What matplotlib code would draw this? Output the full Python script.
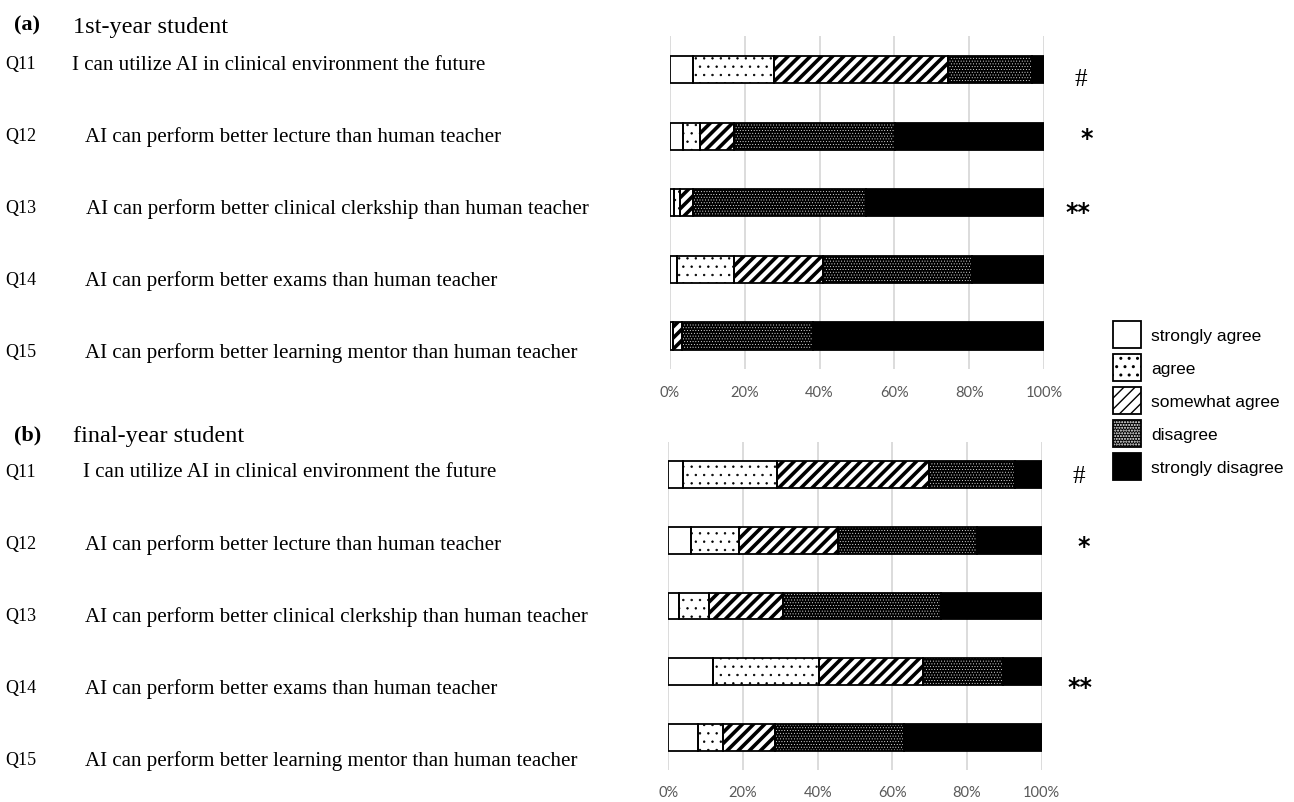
#!/usr/bin/env python3
"""Stacked 100% bars: 1st-year vs final-year student answers to Q11-Q15."""
import matplotlib
matplotlib.use("Agg")
import matplotlib.pyplot as plt
from matplotlib.patches import Patch
from matplotlib.legend_handler import HandlerTuple

W, H = 1294, 803

QUESTIONS = ["Q11", "Q12", "Q13", "Q14", "Q15"]
QTEXT = [
    "I can utilize AI in clinical environment the future",
    "AI can perform better lecture than human teacher",
    "AI can perform better clinical clerkship than human teacher",
    "AI can perform better exams than human teacher",
    "AI can perform better learning mentor than human teacher",
]
LEVELS = ["strongly agree", "agree", "somewhat agree", "disagree",
          "strongly disagree"]

# percentages, Q11..Q15
first_sa = [6.2, 3.6, 1.0, 1.8, 0.8]
first_ag = [21.7, 4.4, 1.7, 15.3, 0.0]
first_sw = [46.5, 9.1, 3.5, 23.7, 2.5]
first_di = [22.3, 43.1, 46.2, 39.9, 34.9]
first_sd = [3.3, 39.8, 47.6, 19.3, 61.8]

final_sa = [4.0, 6.0, 2.9, 12.1, 7.9]
final_ag = [25.0, 12.9, 8.1, 28.3, 6.8]
final_sw = [40.9, 26.6, 19.6, 27.9, 13.9]
final_di = [23.0, 37.3, 42.4, 21.4, 34.6]
final_sd = [7.1, 17.2, 27.0, 10.3, 36.8]

first_marks = ["#", "*", "**", "", ""]
final_marks = ["#", "*", "", "**", ""]

# (facecolor, hatchcolor, hatch, hatch lw)
STYLE = [
    ("white", "black", None, 1.0),
    ("white", "black", "..", 0.5),
    ("white", "black", "///", 2.6),
    ("black", "white", "......", 0.3),
    ("black", "black", None, 1.0),
]

SERIF = ["Liberation Serif", "DejaVu Serif"]


def px(x, y):
    return x / W, 1 - y / H


def stacked(ax, series):
    y = range(len(QUESTIONS))
    left = [0.0] * len(QUESTIONS)
    for vals, (fc, hc, hatch, hlw) in zip(series, STYLE):
        plt.rcParams["hatch.linewidth"] = hlw
        bars = ax.barh(y, vals, left=left, height=0.41, color=fc,
                       edgecolor=hc, hatch=hatch, linewidth=0, zorder=2)
        for b in bars:
            try:
                b.set_hatch_linewidth(hlw)
            except AttributeError:
                pass
        ax.barh(y, vals, left=left, height=0.41, fill=False,
                edgecolor="black", linewidth=1.3, zorder=3)
        left = [l + v for l, v in zip(left, vals)]
    ax.set_xlim(0, 100)
    ax.set_ylim(4.5, -0.5)
    ax.set_xticks(range(0, 101, 20))
    ax.set_xticklabels([f"{t}%" for t in range(0, 101, 20)],
                       family="Lato", fontsize=10.5, color="#595959")
    ax.set_yticks([])
    ax.tick_params(axis="x", length=0, pad=11)
    ax.grid(axis="x", color="#d9d9d9", lw=1.3, zorder=0)
    for s in ax.spines.values():
        s.set_visible(False)


fig = plt.figure(figsize=(W / 100, H / 100), dpi=100)
ax_a = fig.add_axes([670 / W, 1 - 370.3 / H, 374 / W, 333 / H])
ax_b = fig.add_axes([668.3 / W, 1 - 771 / H, 373.4 / W, 328 / H])

stacked(ax_a, [first_sa, first_ag, first_sw, first_di, first_sd])
stacked(ax_b, [final_sa, final_ag, final_sw, final_di, final_sd])

# panel headers and question labels (placed like the original, not on bar centres)
fig.text(*px(14, 25), "(a)", family=SERIF, fontsize=16, weight="bold", va="center")
fig.text(*px(73, 27), "1st-year student", family=SERIF, fontsize=17.5, va="center")
fig.text(*px(14, 435), "(b)", family=SERIF, fontsize=16, weight="bold", va="center")
fig.text(*px(73, 437), "final-year student", family=SERIF, fontsize=17.5, va="center")

ya = [65, 137, 209, 281, 353]
yb = [473, 545, 617, 689, 761]
xa = [72, 85, 86, 85, 85]
xb = [83, 85, 85, 85, 85]
for i, q in enumerate(QUESTIONS):
    fig.text(*px(5, ya[i]), q, family=SERIF, fontsize=13, va="center")
    fig.text(*px(xa[i], ya[i]), QTEXT[i], family=SERIF, fontsize=15.1, va="center")
    fig.text(*px(5, yb[i]), q, family=SERIF, fontsize=13, va="center")
    fig.text(*px(xb[i], yb[i]), QTEXT[i], family=SERIF, fontsize=15.1, va="center")

mark_a = [(1081, 80), (1087, 139), (1078, 213), None, None]
mark_b = [(1079, 477), (1084, 547), None, (1080, 688), None]
for m, pos in zip(first_marks + final_marks, mark_a + mark_b):
    if not m:
        continue
    if m == "#":
        fig.text(*px(*pos), m, family=SERIF, fontsize=18, ha="center",
                 va="center")
    else:
        fig.text(*px(*pos), m, family=["DejaVu Sans"], fontsize=17,
                 ha="center", va="center", weight="bold")

# legend
handles = []
for fc, hc, hatch, hlw in STYLE:
    plt.rcParams["hatch.linewidth"] = hlw
    fill = Patch(facecolor=fc, edgecolor=hc, hatch=hatch, linewidth=0)
    try:
        fill.set_hatch_linewidth(hlw)
    except AttributeError:
        pass
    edge = Patch(fill=False, edgecolor="black", linewidth=1.3)
    handles.append((fill, edge))
fig.legend(handles, LEVELS, loc="upper left", bbox_to_anchor=px(1113, 322),
           frameon=False, borderpad=0, borderaxespad=0,
           prop={"family": "Liberation Sans", "size": 12.5},
           handlelength=1.6, handleheight=2.0, labelspacing=0.36,
           handletextpad=0.6,
           handler_map={tuple: HandlerTuple(ndivide=1, pad=0)})

fig.savefig("out.png", dpi=100)
